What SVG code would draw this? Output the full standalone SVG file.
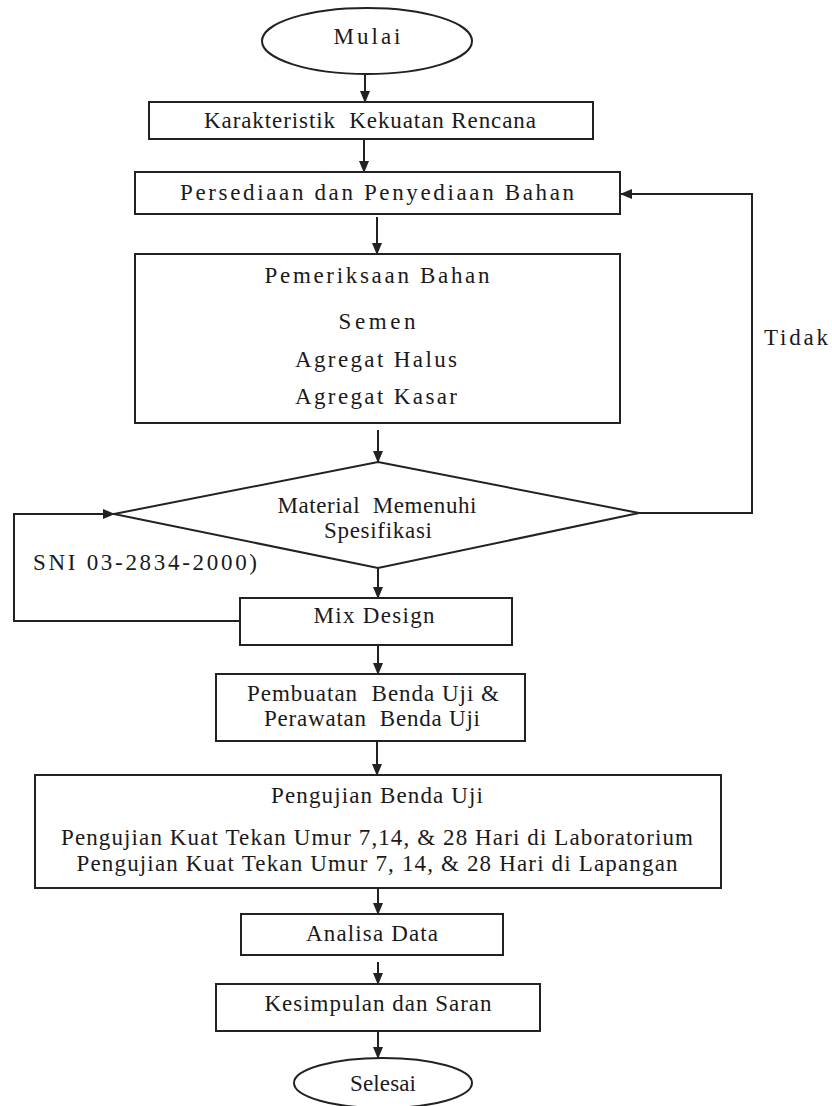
<svg xmlns="http://www.w3.org/2000/svg" width="832" height="1106" viewBox="0 0 832 1106">
<style>
.shape{fill:#fff;stroke:#222;stroke-width:2}
.conn{fill:none;stroke:#222;stroke-width:2}
text{font-family:'Liberation Serif','DejaVu Serif',serif;font-size:23px;fill:#1a1a1a;white-space:pre}
.c{text-anchor:middle}
</style>
<defs>
<marker id="ah" markerUnits="userSpaceOnUse" markerWidth="12" markerHeight="10" refX="11" refY="5" orient="auto">
<path d="M0,0 L12,5 L0,10 Z" fill="#222"/>
</marker>
</defs>
<rect width="832" height="1106" fill="#fff"/>
<g id="connectors" font-family="Liberation Serif, serif">
<line class="conn" x1="365" y1="74" x2="365" y2="102" marker-end="url(#ah)"/>
<line class="conn" x1="364" y1="139" x2="364" y2="172" marker-end="url(#ah)"/>
<line class="conn" x1="377" y1="217" x2="377" y2="254" marker-end="url(#ah)"/>
<line class="conn" x1="378" y1="430" x2="378" y2="462" marker-end="url(#ah)"/>
<line class="conn" x1="378" y1="568" x2="378" y2="598" marker-end="url(#ah)"/>
<line class="conn" x1="378" y1="645" x2="378" y2="674" marker-end="url(#ah)"/>
<line class="conn" x1="377" y1="741" x2="377" y2="775" marker-end="url(#ah)"/>
<line class="conn" x1="378" y1="888" x2="378" y2="914" marker-end="url(#ah)"/>
<line class="conn" x1="378" y1="962" x2="378" y2="984" marker-end="url(#ah)"/>
<line class="conn" x1="378" y1="1031" x2="378" y2="1058" marker-end="url(#ah)"/>
<polyline class="conn" points="639,513 752,513 752,194 621,194" marker-end="url(#ah)"/>
<polyline class="conn" points="240,621 14,621 14,514 114,514" marker-end="url(#ah)"/>
<text x="764" y="345" textLength="64" lengthAdjust="spacing">Tidak</text>
<text x="33" y="570" textLength="224" lengthAdjust="spacing">SNI 03-2834-2000)</text>
</g>
<g id="mulai">
<ellipse class="shape" cx="367" cy="41" rx="105" ry="33"/>
<text class="c" x="367" y="44" textLength="67" lengthAdjust="spacing">Mulai</text>
</g>
<g id="karakteristik">
<rect class="shape" x="149" y="102" width="444" height="37"/>
<text class="c" x="370" y="128" textLength="332" lengthAdjust="spacing">Karakteristik  Kekuatan Rencana</text>
</g>
<g id="persediaan">
<rect class="shape" x="135" y="172" width="485" height="42"/>
<text class="c" x="377" y="200" textLength="394" lengthAdjust="spacing">Persediaan dan Penyediaan Bahan</text>
</g>
<g id="pemeriksaan">
<rect class="shape" x="135" y="254" width="485" height="169"/>
<text class="c" x="377" y="283" textLength="225" lengthAdjust="spacing">Pemeriksaan Bahan</text>
<text class="c" x="377" y="329" textLength="77" lengthAdjust="spacing">Semen</text>
<text class="c" x="376" y="367" textLength="162" lengthAdjust="spacing">Agregat Halus</text>
<text class="c" x="376" y="404" textLength="162" lengthAdjust="spacing">Agregat Kasar</text>
</g>
<g id="keputusan">
<polygon class="shape" points="378,462 639,513 378,568 114,514"/>
<text class="c" x="377" y="513" textLength="199" lengthAdjust="spacing">Material  Memenuhi</text>
<text class="c" x="378" y="538" textLength="108" lengthAdjust="spacing">Spesifikasi</text>
</g>
<g id="mixdesign">
<rect class="shape" x="240" y="598" width="272" height="47"/>
<text class="c" x="374" y="623" textLength="121" lengthAdjust="spacing">Mix Design</text>
</g>
<g id="pembuatan">
<rect class="shape" x="216" y="674" width="309" height="67"/>
<text class="c" x="373" y="701" textLength="252" lengthAdjust="spacing">Pembuatan  Benda Uji &amp;</text>
<text class="c" x="372" y="726" textLength="216" lengthAdjust="spacing">Perawatan  Benda Uji</text>
</g>
<g id="pengujian">
<rect class="shape" x="35" y="775" width="686" height="113"/>
<text class="c" x="377" y="803" textLength="212" lengthAdjust="spacing">Pengujian Benda Uji</text>
<text class="c" x="377" y="845" textLength="632" lengthAdjust="spacing">Pengujian Kuat Tekan Umur 7,14, &amp; 28 Hari di Laboratorium</text>
<text class="c" x="377" y="871" textLength="601" lengthAdjust="spacing">Pengujian Kuat Tekan Umur 7, 14, &amp; 28 Hari di Lapangan</text>
</g>
<g id="analisa">
<rect class="shape" x="241" y="914" width="262" height="41"/>
<text class="c" x="372" y="941" textLength="132" lengthAdjust="spacing">Analisa Data</text>
</g>
<g id="kesimpulan">
<rect class="shape" x="216" y="984" width="324" height="47"/>
<text class="c" x="378" y="1011" textLength="227" lengthAdjust="spacing">Kesimpulan dan Saran</text>
</g>
<g id="selesai">
<ellipse class="shape" cx="383" cy="1083" rx="89" ry="25"/>
<text class="c" x="383" y="1091" textLength="66" lengthAdjust="spacing">Selesai</text>
</g>
</svg>
